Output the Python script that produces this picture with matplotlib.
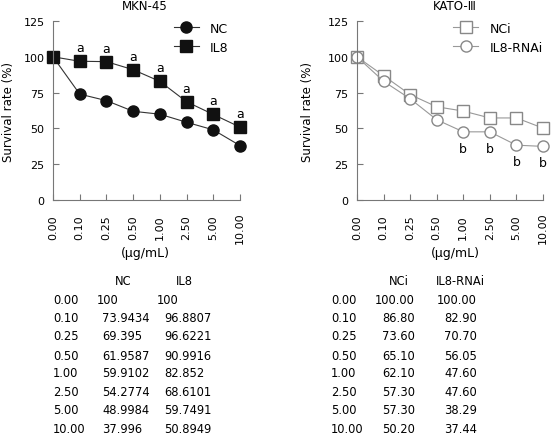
import matplotlib
matplotlib.use("Agg")
import matplotlib.pyplot as plt

doses = ["0.00", "0.10", "0.25", "0.50", "1.00", "2.50", "5.00", "10.00"]

nc = [100, 73.9434, 69.395, 61.9587, 59.9102, 54.2774, 48.9984, 37.996]
il8 = [100, 96.8807, 96.6221, 90.9916, 82.852, 68.6101, 59.7491, 50.8949]
il8_sig = [False, True, True, True, True, True, True, True]

nci = [100.00, 86.80, 73.60, 65.10, 62.10, 57.30, 57.30, 50.20]
rnai = [100.00, 82.90, 70.70, 56.05, 47.60, 47.60, 38.29, 37.44]
rnai_sig = [False, False, False, False, True, True, True, True]

plt.rcParams['font.family'] = 'DejaVu Sans'
plt.rcParams['font.size'] = 8

W, H = 551, 435
fig = plt.figure(figsize=(W / 100, H / 100), dpi=100)

axis_col = '#777777'


def setup(ax, title, cx, ylabpad):
    x = range(len(doses))
    ax.set_xlim(0, len(doses) - 1)
    ax.set_ylim(0, 125)
    ax.set_yticks([0, 25, 50, 75, 100, 125])
    ax.set_xticks(list(x))
    ax.set_xticklabels(doses, rotation=90, va='center')
    for s in ['top', 'right']:
        ax.spines[s].set_visible(False)
    for s in ['left', 'bottom']:
        ax.spines[s].set_color(axis_col)
        ax.spines[s].set_linewidth(0.8)
    ax.tick_params(axis='x', direction='in', length=4, color=axis_col, pad=19.5)
    ax.tick_params(axis='y', direction='in', length=4, color=axis_col, pad=6)
    ax.set_ylabel("Survival rate (%)", fontsize=8.5, labelpad=ylabpad)
    fig.text(cx / W, 1 - 253 / H, "(\u03bcg/mL)", ha='center', va='center', fontsize=9)
    fig.text(cx / W, 1 - 7 / H, title, ha='center', va='center', fontsize=8.5)


x = list(range(len(doses)))

# left panel
ax1 = fig.add_axes([53 / W, 1 - 201 / H, 187 / W, 179 / H])
setup(ax1, "MKN-45", 145, 6)
ax1.plot(x, nc, color='#333333', lw=0.8, marker='o', ms=8,
         mfc='#111111', mec='#111111', label='NC', clip_on=False)
ax1.plot(x, il8, color='#333333', lw=0.8, marker='s', ms=8,
         mfc='#111111', mec='#111111', label='IL8', clip_on=False)
for i, v in enumerate(il8):
    if il8_sig[i]:
        ax1.annotate('a', (i, v), xytext=(0, 5), textcoords='offset points',
                     ha='center', va='bottom', fontsize=9)
ax1.legend(loc='upper right', bbox_to_anchor=(1.0, 1.06), frameon=False,
           fontsize=9, handlelength=2.0, labelspacing=0.5, handletextpad=0.9)

# right panel
ax2 = fig.add_axes([357 / W, 1 - 201 / H, 186 / W, 179 / H])
setup(ax2, "KATO-\u2162", 455, 10)
ax2.plot(x, nci, color='#999999', lw=0.8, marker='s', ms=8,
         mfc='white', mec='#888888', label='NCi', clip_on=False)
ax2.plot(x, rnai, color='#999999', lw=0.8, marker='o', ms=8,
         mfc='white', mec='#888888', label='IL8-RNAi', clip_on=False)
for i, v in enumerate(rnai):
    if rnai_sig[i]:
        ax2.annotate('b', (i, v), xytext=(0, -7), textcoords='offset points',
                     ha='center', va='top', fontsize=9)
ax2.legend(loc='upper right', bbox_to_anchor=(1.06, 1.06), frameon=False,
           fontsize=9, handlelength=2.0, labelspacing=0.5, handletextpad=0.9)

# data tables
row_y = [300, 318, 337, 356, 374, 393, 411, 430]
fs = 8.3
fig.text(123 / W, 1 - 282 / H, "NC", ha='center', va='center', fontsize=fs)
fig.text(184 / W, 1 - 282 / H, "IL8", ha='center', va='center', fontsize=fs)
fig.text(399 / W, 1 - 282 / H, "NCi", ha='center', va='center', fontsize=fs)
fig.text(460 / W, 1 - 282 / H, "IL8-RNAi", ha='center', va='center', fontsize=fs)
for i, d in enumerate(doses):
    yy = 1 - row_y[i] / H
    fig.text(53 / W, yy, d, ha='left', va='center', fontsize=fs)
    x_nc = 97 if nc[i] == 100 else 102
    x_il = 157 if il8[i] == 100 else 164
    fig.text(x_nc / W, yy, f"{nc[i]:g}", ha='left', va='center', fontsize=fs)
    fig.text(x_il / W, yy, f"{il8[i]:g}", ha='left', va='center', fontsize=fs)
    fig.text(331 / W, yy, d, ha='left', va='center', fontsize=fs)
    fig.text(415 / W, yy, f"{nci[i]:.2f}", ha='right', va='center', fontsize=fs)
    fig.text(477 / W, yy, f"{rnai[i]:.2f}", ha='right', va='center', fontsize=fs)

fig.savefig("out.png", dpi=100)
